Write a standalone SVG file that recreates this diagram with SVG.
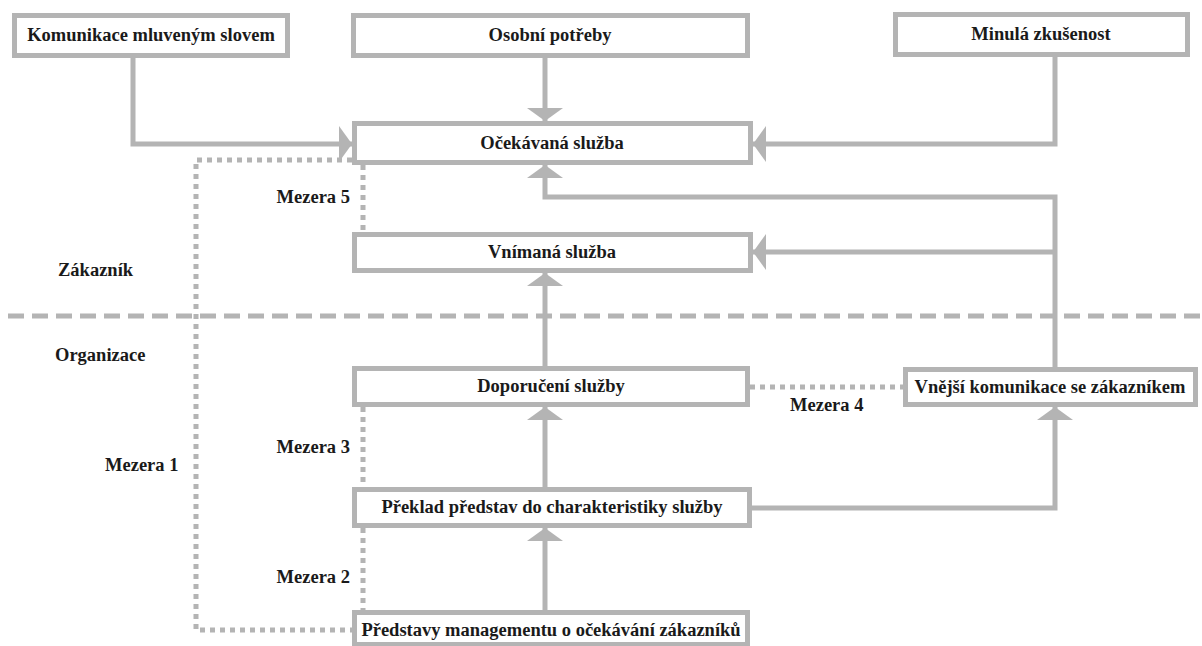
<svg xmlns="http://www.w3.org/2000/svg" width="1202" height="646" viewBox="0 0 1202 646">
  <defs>
    <style>
      .box { fill: #ffffff; stroke: #b4b4b4; stroke-width: 5; }
      .conn { fill: none; stroke: #b4b4b4; stroke-width: 5; }
      .gap { fill: none; stroke: #b4b4b4; stroke-width: 5; stroke-dasharray: 5 5; }
      .split { fill: none; stroke: #b4b4b4; stroke-width: 5; stroke-dasharray: 16 8; }
      text { font-family: 'Times New Roman', 'Liberation Serif', Tinos, 'DejaVu Serif', serif; font-weight: bold; font-size: 18.5px; fill: #1a1a1a; }
      .c { text-anchor: middle; }
      .r { text-anchor: end; }
    </style>
    <marker id="arrow" viewBox="0 0 13 36" refX="13" refY="18" markerWidth="13" markerHeight="36" markerUnits="userSpaceOnUse" orient="auto">
      <path d="M0,0 L13,18 L0,36 Z" fill="#b4b4b4"/>
    </marker>
  </defs>

  <rect width="1202" height="646" fill="#ffffff"/>

  <!-- customer / organisation split -->
  <path class="split" d="M8 316 H1202"/>

  <!-- gap markers -->
  <g id="gaps">
    <path class="gap" d="M352 160 H196 V630 H352"/>
    <path class="gap" d="M363 165 V232"/>
    <path class="gap" d="M363 407 V487"/>
    <path class="gap" d="M363 528 V610"/>
    <path class="gap" d="M750 387 H903"/>
  </g>

  <!-- connectors -->
  <g id="connectors">
    <path class="conn" d="M133 58 V144 H352" marker-end="url(#arrow)"/>
    <path class="conn" d="M545 58 V121" marker-end="url(#arrow)"/>
    <path class="conn" d="M1055 57 V144 H753" marker-end="url(#arrow)"/>
    <path class="conn" d="M1055 367 V197 H545 V165" marker-end="url(#arrow)"/>
    <path class="conn" d="M1055 252 H753" marker-end="url(#arrow)"/>
    <path class="conn" d="M545 366 V273" marker-end="url(#arrow)"/>
    <path class="conn" d="M545 487 V407" marker-end="url(#arrow)"/>
    <path class="conn" d="M545 610 V528" marker-end="url(#arrow)"/>
    <path class="conn" d="M750 508 H1055 V407" marker-end="url(#arrow)"/>
  </g>

  <g id="word-of-mouth">
    <rect class="box" x="14.5" y="15.5" width="273" height="40"/>
    <text class="c" x="151" y="41">Komunikace mluveným slovem</text>
  </g>
  <g id="personal-needs">
    <rect class="box" x="353.5" y="15.5" width="394" height="40"/>
    <text class="c" x="550" y="41">Osobní potřeby</text>
  </g>
  <g id="past-experience">
    <rect class="box" x="895.5" y="14.5" width="292" height="40"/>
    <text class="c" x="1041" y="40">Minulá zkušenost</text>
  </g>
  <g id="expected-service">
    <rect class="box" x="354.5" y="123.5" width="396" height="39"/>
    <text class="c" x="552" y="149">Očekávaná služba</text>
  </g>
  <g id="perceived-service">
    <rect class="box" x="354.5" y="234.5" width="396" height="36"/>
    <text class="c" x="552" y="258">Vnímaná služba</text>
  </g>
  <g id="service-delivery">
    <rect class="box" x="354.5" y="368.5" width="393" height="36"/>
    <text class="c" x="551" y="392">Doporučení služby</text>
  </g>
  <g id="external-communication">
    <rect class="box" x="905.5" y="369.5" width="290" height="35"/>
    <text class="c" x="1050" y="393">Vnější komunikace se zákazníkem</text>
  </g>
  <g id="service-specification">
    <rect class="box" x="354.5" y="489.5" width="395" height="36"/>
    <text class="c" x="552" y="513">Překlad představ do charakteristiky služby</text>
  </g>
  <g id="management-perception">
    <rect class="box" x="354.5" y="612.5" width="393" height="32"/>
    <text class="c" x="551" y="636">Představy managementu o očekávání zákazníků</text>
  </g>

  <!-- labels -->
  <g id="labels">
    <text x="58" y="276">Zákazník</text>
    <text x="55" y="361">Organizace</text>
    <text class="r" x="350" y="203">Mezera 5</text>
    <text x="105" y="471">Mezera 1</text>
    <text class="r" x="350" y="453">Mezera 3</text>
    <text x="790" y="411">Mezera 4</text>
    <text class="r" x="350" y="583">Mezera 2</text>
  </g>
</svg>
